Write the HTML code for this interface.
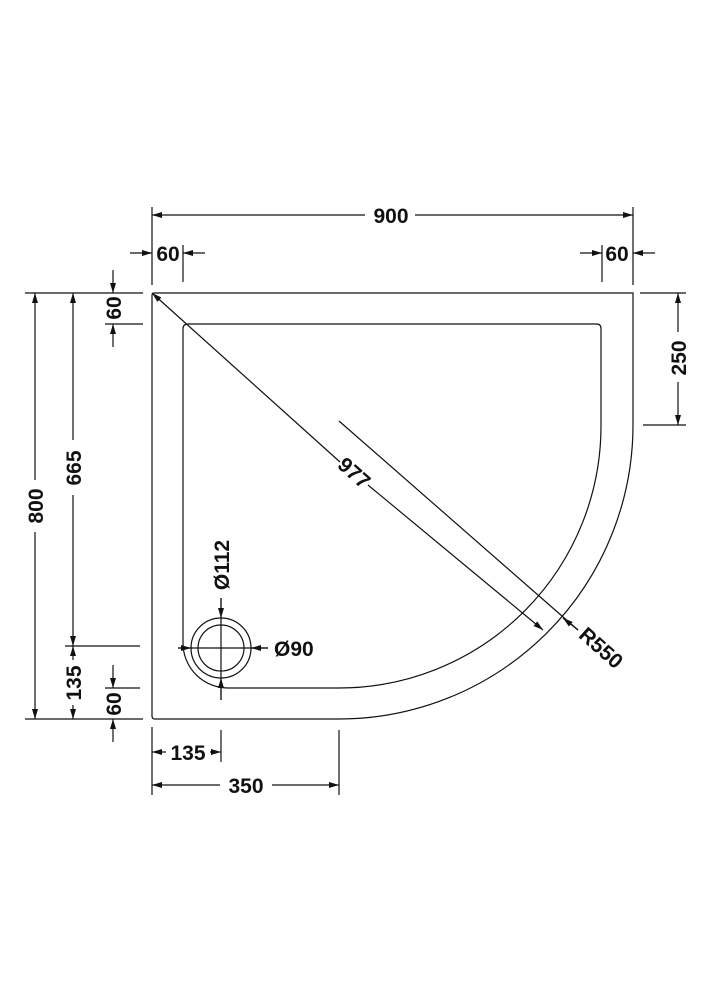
<!DOCTYPE html>
<html><head><style>
html,body{margin:0;padding:0;background:#fff;}
svg{display:block;}
text{font-family:"Liberation Sans",sans-serif;font-weight:bold;font-size:21px;fill:#111;}
</style></head><body>
<svg width="707" height="1000" viewBox="0 0 707 1000" xmlns="http://www.w3.org/2000/svg">
<defs>
<marker id="a" viewBox="0 0 10 6" refX="10" refY="3" markerWidth="10" markerHeight="6" orient="auto" markerUnits="userSpaceOnUse">
<path d="M0,0 L10,3 L0,6 z" fill="#111"/></marker>
</defs>
<g stroke="#111" stroke-width="1.2" fill="none">
<!-- tray outer -->
<path d="M154,293 L633,293 L633,425 A294,294 0 0 1 339,719 L155,719 Q152,719 152,716 L152,296 Q152,293 154,293"/>
<!-- tray inner -->
<path d="M188,324 L597,324 Q601,324 601,329 L601,425 A262,262 0 0 1 339,688 L228,688 A45,45 0 0 1 183,643 L183,329 Q183,324 188,324"/>
<!-- drain -->
<circle cx="221" cy="648" r="30"/>
<circle cx="221" cy="648" r="23"/>
<line x1="178" y1="648" x2="268" y2="648"/>
<line x1="221" y1="598" x2="221" y2="700"/>
<line x1="221" y1="598" x2="221" y2="618" marker-end="url(#a)"/>
<line x1="178" y1="648" x2="191" y2="648" marker-end="url(#a)"/>
<line x1="268" y1="648" x2="251" y2="648" marker-end="url(#a)"/>
<line x1="221" y1="700" x2="221" y2="678" marker-end="url(#a)"/>
<!-- 977 diagonal -->
<line x1="340" y1="462" x2="152" y2="293" marker-end="url(#a)"/>
<line x1="368" y1="485" x2="543" y2="630" marker-end="url(#a)"/>
<!-- R550 -->
<line x1="339" y1="421" x2="578" y2="630"/>
<line x1="578" y1="630" x2="563" y2="618" marker-end="url(#a)"/>
<!-- 900 -->
<line x1="152" y1="207" x2="152" y2="285"/>
<line x1="633" y1="207" x2="633" y2="285"/>
<line x1="365" y1="215" x2="152" y2="215" marker-end="url(#a)"/>
<line x1="415" y1="215" x2="633" y2="215" marker-end="url(#a)"/>
<!-- 60 top left -->
<line x1="183" y1="245" x2="183" y2="282"/>
<line x1="130" y1="253" x2="152" y2="253" marker-end="url(#a)"/>
<line x1="205" y1="253" x2="183" y2="253" marker-end="url(#a)"/>
<!-- 60 top right -->
<line x1="602" y1="245" x2="602" y2="282"/>
<line x1="580" y1="253" x2="602" y2="253" marker-end="url(#a)"/>
<line x1="655" y1="253" x2="633" y2="253" marker-end="url(#a)"/>
<!-- left ext lines -->
<line x1="25" y1="293" x2="143" y2="293"/>
<line x1="25" y1="719" x2="143" y2="719"/>
<line x1="105" y1="324" x2="143" y2="324"/>
<line x1="65" y1="646" x2="140" y2="646"/>
<line x1="105" y1="688" x2="140" y2="688"/>
<!-- 800 -->
<line x1="35" y1="480" x2="35" y2="293" marker-end="url(#a)"/>
<line x1="35" y1="532" x2="35" y2="719" marker-end="url(#a)"/>
<!-- 665 -->
<line x1="73" y1="440" x2="73" y2="293" marker-end="url(#a)"/>
<line x1="73" y1="495" x2="73" y2="646" marker-end="url(#a)"/>
<!-- 135 -->
<line x1="73" y1="660" x2="73" y2="646" marker-end="url(#a)"/>
<line x1="73" y1="705" x2="73" y2="719" marker-end="url(#a)"/>
<!-- 60 left top -->
<line x1="113" y1="270" x2="113" y2="293" marker-end="url(#a)"/>
<line x1="113" y1="347" x2="113" y2="324" marker-end="url(#a)"/>
<!-- 60 left bottom -->
<line x1="113" y1="665" x2="113" y2="688" marker-end="url(#a)"/>
<line x1="113" y1="742" x2="113" y2="719" marker-end="url(#a)"/>
<!-- 250 -->
<line x1="640" y1="293" x2="686" y2="293"/>
<line x1="643" y1="425" x2="686" y2="425"/>
<line x1="678" y1="332" x2="678" y2="293" marker-end="url(#a)"/>
<line x1="678" y1="382" x2="678" y2="425" marker-end="url(#a)"/>
<!-- bottom ext -->
<line x1="152" y1="727" x2="152" y2="795"/>
<line x1="221" y1="730" x2="221" y2="762"/>
<line x1="339" y1="730" x2="339" y2="795"/>
<!-- 135 bottom -->
<line x1="166" y1="752" x2="152" y2="752" marker-end="url(#a)"/>
<line x1="210" y1="752" x2="221" y2="752" marker-end="url(#a)"/>
<!-- 350 -->
<line x1="220" y1="785" x2="152" y2="785" marker-end="url(#a)"/>
<line x1="272" y1="785" x2="339" y2="785" marker-end="url(#a)"/>
</g>
<text x="391" y="223" text-anchor="middle">900</text>
<text x="168" y="261" text-anchor="middle">60</text>
<text x="617" y="261" text-anchor="middle">60</text>
<text transform="translate(43,506) rotate(-90)" text-anchor="middle">800</text>
<text transform="translate(81,468) rotate(-90)" text-anchor="middle">665</text>
<text transform="translate(81,683) rotate(-90)" text-anchor="middle">135</text>
<text transform="translate(121,308) rotate(-90)" text-anchor="middle">60</text>
<text transform="translate(121,704) rotate(-90)" text-anchor="middle">60</text>
<text transform="translate(686,358) rotate(-90)" text-anchor="middle">250</text>
<text transform="translate(229,565) rotate(-90)" text-anchor="middle">Ø112</text>
<text x="274" y="656">Ø90</text>
<text x="188" y="760" text-anchor="middle">135</text>
<text x="246" y="793" text-anchor="middle">350</text>
<text transform="translate(354,473) rotate(41.5)" text-anchor="middle" dy="7">977</text>
<text transform="translate(601,648) rotate(41.5)" text-anchor="middle" dy="7">R550</text>
</svg>
</body></html>
